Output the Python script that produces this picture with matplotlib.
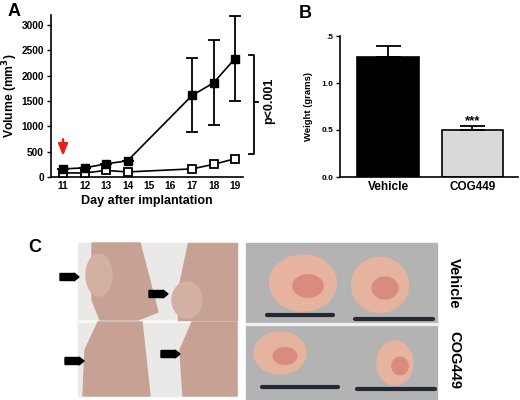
import numpy as np
import matplotlib.pyplot as plt
from matplotlib.patches import Ellipse, Polygon, Rectangle, FancyArrow

plt.rcParams['font.family'] = ['Liberation Sans', 'DejaVu Sans']
plt.rcParams['font.weight'] = 'bold'
plt.rcParams['axes.labelweight'] = 'bold'

# panel A: tumour volume
days = [11, 12, 13, 14, 17, 18, 19]
veh_vol = [160, 180, 260, 320, 1610, 1860, 2340]
veh_lo = [0, 0, 0, 0, 730, 840, 840]
veh_hi = [0, 0, 0, 0, 740, 840, 840]
cog_vol = [80, 80, 130, 100, 160, 250, 360]
day_ticks = [11, 12, 13, 14, 15, 16, 17, 18, 19]
vol_ticks = [0, 500, 1000, 1500, 2000, 2500, 3000]

# panel B: tumour weight
groups = ['Vehicle', 'COG449']
weight = [1.28, 0.50]
weight_err = [0.11, 0.04]
bar_colors = ['black', '#d9d9d9']
weight_ticks = [0.0, 0.5, 1.0, 1.5]
weight_labels = ['0.0', '0.5', '1.0', '.5']

W, H = 520, 400
fig = plt.figure(figsize=(5.2, 4), dpi=100)


def px_axes(x0, y0, x1, y1):
    # axes from pixel box (top-left origin)
    return fig.add_axes([x0 / W, 1 - y1 / H, (x1 - x0) / W, (y1 - y0) / H])


# ---- A ----
ax = px_axes(51, 15, 243, 177)
ax.errorbar(days, veh_vol, yerr=[veh_lo, veh_hi], color='black', marker='s',
            ms=6, lw=1.2, capsize=4, capthick=1.3, elinewidth=1.3, zorder=3)
ax.plot(days, cog_vol, color='black', marker='s', ms=6, mfc='white',
        mew=1.3, lw=1.2, zorder=3)
ax.set_xlim(10.44, 19.37)
ax.set_ylim(0, 3200)
ax.set_xticks(day_ticks)
ax.set_yticks(vol_ticks)
ax.tick_params(labelsize=7.3, width=1, length=3, pad=2)
ax.tick_params(axis='x', length=0, pad=3)
for s in ['top', 'right']:
    ax.spines[s].set_visible(False)
for s in ['left', 'bottom']:
    ax.spines[s].set_linewidth(1.2)
ax.set_xlabel('Day after implantation', fontsize=9, labelpad=3)
ax.set_ylabel('Volume (mm$^\\mathbf{3}$)', fontsize=8.7, labelpad=1)
ax.annotate('', xy=(11, 360), xytext=(11, 800),
            arrowprops=dict(arrowstyle='-|>,head_width=0.28,head_length=0.7',
                            color='#e8201c', lw=1.7))
bx = 19.88
ax.plot([bx - 0.25, bx, bx, bx - 0.25], [2410, 2410, 455, 455],
        color='black', lw=1.3, clip_on=False)
ax.plot([bx, bx + 0.2], [1480, 1480], color='black', lw=1.3, clip_on=False)
ax.text(20.6, 1500, 'p<0.001', rotation=90, fontsize=9,
        ha='center', va='center')
fig.text(8 / W, 1 - 11 / H, 'A', fontsize=13, va='center')

# ---- B ----
bx_ax = px_axes(340, 36, 518, 177)
xpos = np.arange(len(groups))
bx_ax.bar(xpos, weight, width=0.73, color=bar_colors, edgecolor='black',
          lw=1.2, zorder=2)
for i in range(len(groups)):
    bx_ax.errorbar(xpos[i], weight[i], yerr=[[0], [weight_err[i]]],
                   color='black', capsize=9, capthick=1.3, elinewidth=1.3)
bx_ax.text(xpos[1], weight[1] + weight_err[1] - 0.01, '***', ha='center',
           va='bottom', fontsize=9.5)
bx_ax.set_xlim(-0.57, 1.54)
bx_ax.set_ylim(0, 1.5)
bx_ax.set_xticks(xpos)
bx_ax.set_xticklabels(groups, fontsize=8.5)
bx_ax.set_yticks(weight_ticks)
bx_ax.set_yticklabels(weight_labels, fontsize=6)
bx_ax.tick_params(width=1, length=3, pad=2)
bx_ax.tick_params(axis='x', length=0, pad=3)
for s in ['top', 'right']:
    bx_ax.spines[s].set_visible(False)
for s in ['left', 'bottom']:
    bx_ax.spines[s].set_linewidth(1.2)
bx_ax.set_ylabel('Weight (grams)', fontsize=6.8, labelpad=6)
fig.text(299 / W, 1 - 13 / H, 'B', fontsize=13, va='center')

# ---- C : photographs sketched with patches ----
cx = fig.add_axes([0, 0, 1, 1], zorder=-1)
cx.set_xlim(0, W)
cx.set_ylim(H, 0)
cx.axis('off')
skin = '#c7a193'
skin2 = '#d4b0a2'
cx.add_patch(Rectangle((78, 243), 159, 153, color='#ebe9e8'))
cx.add_patch(Rectangle((78, 320), 159, 1.5, color='#f7f7f7'))
# mice
cx.add_patch(Polygon([(92, 243), (140, 243), (158, 312), (138, 320), (100, 320),
                      (92, 300)], color=skin))
cx.add_patch(Ellipse((99, 275), 26, 42, color=skin2))
cx.add_patch(Polygon([(188, 243), (237, 243), (237, 320), (178, 320), (178, 290)],
                     color=skin))
cx.add_patch(Ellipse((187, 300), 30, 36, color=skin2))
cx.add_patch(Polygon([(98, 322), (142, 322), (150, 396), (83, 396), (85, 350)],
                     color=skin))
cx.add_patch(Polygon([(192, 322), (237, 322), (237, 396), (183, 396), (180, 350)],
                     color=skin))
for (x, y) in [(60, 277), (149, 294), (65, 361), (161, 354)]:
    cx.add_patch(FancyArrow(x, y, 19, 0, width=7, head_width=8, head_length=5,
                            color='black', length_includes_head=True))
# tumours
cx.add_patch(Rectangle((246, 243), 191, 156, color='#b3b3b3'))
cx.add_patch(Rectangle((246, 323), 191, 1.5, color='#f0f0f0'))
for (x, y, w, h) in [(303, 283, 67, 56), (380, 285, 57, 55),
                     (280, 353, 52, 42), (395, 363, 36, 44)]:
    cx.add_patch(Ellipse((x, y), w, h, color='#e6b49e'))
    cx.add_patch(Ellipse((x + 5, y + 3), w * 0.45, h * 0.4, color='#d98c7e'))
for (x0, x1, y) in [(267, 333, 315), (355, 433, 319), (262, 338, 387),
                    (357, 435, 389)]:
    cx.plot([x0, x1], [y, y], color='#232a36', lw=3, solid_capstyle='round')
cx.text(454, 283, 'Vehicle', rotation=270, fontsize=10.5, ha='center', va='center')
cx.text(454, 360, 'COG449', rotation=270, fontsize=10.5, ha='center', va='center')
cx.text(35, 247, 'C', fontsize=13, ha='center', va='center')

fig.savefig('out.png', dpi=100)
